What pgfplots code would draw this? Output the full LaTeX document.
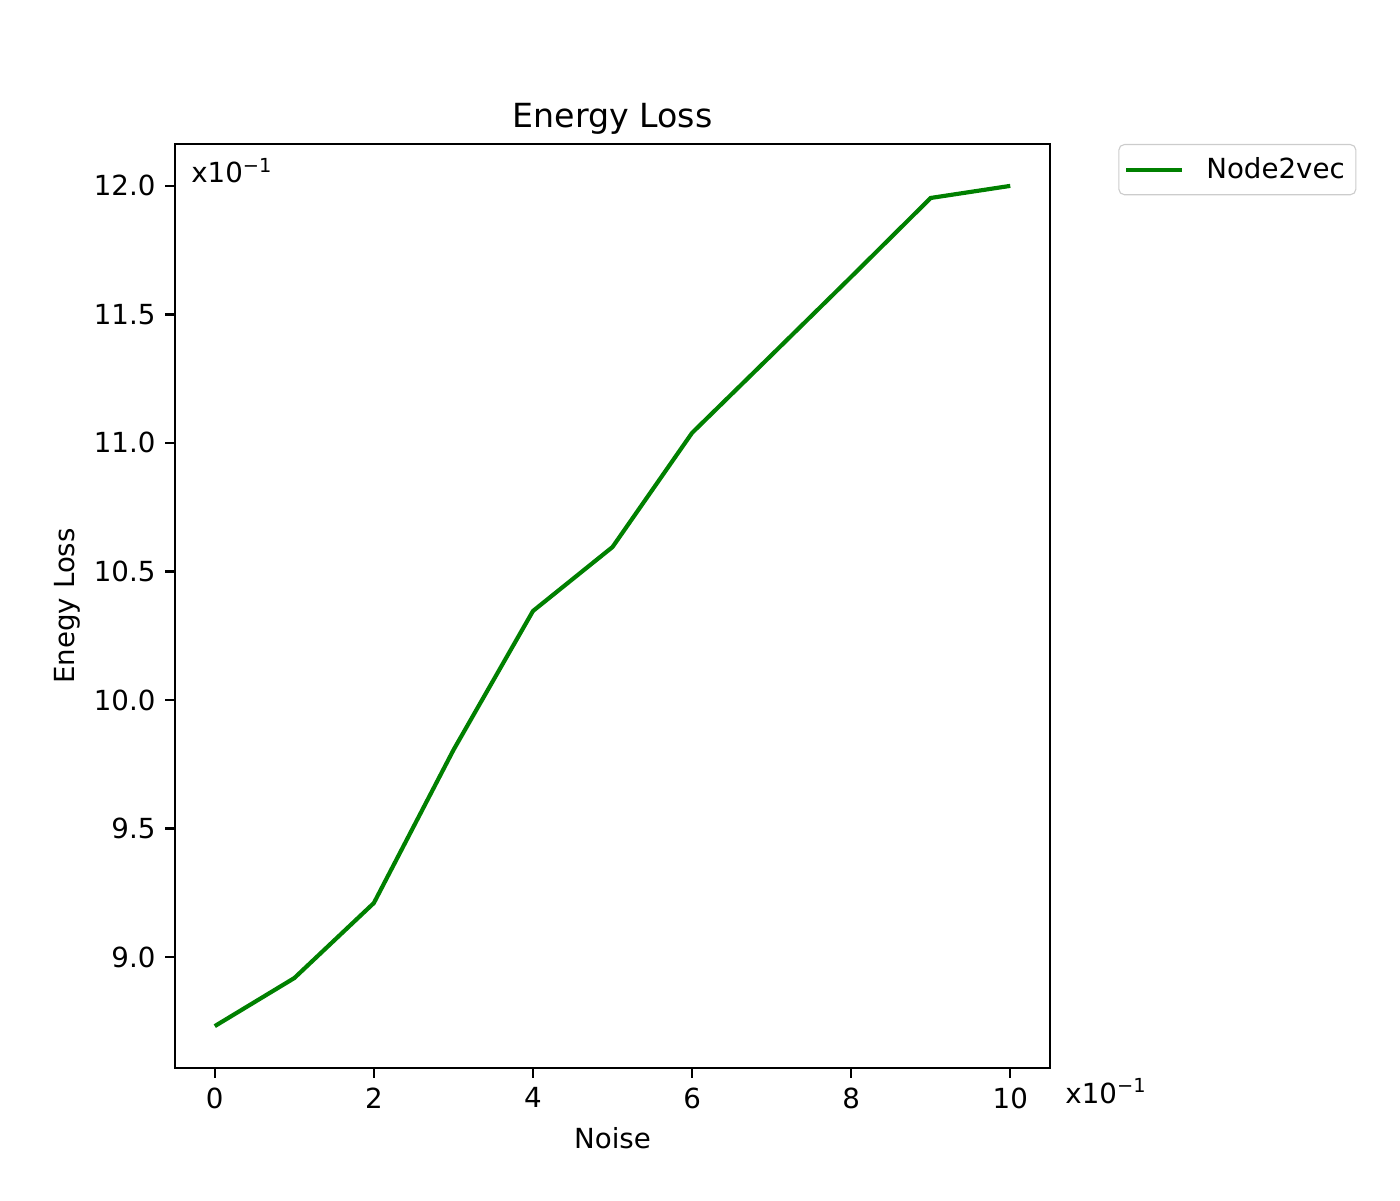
\documentclass[border=0pt]{standalone}
\usepackage{pgfplots}
\pgfplotsset{compat=1.18}
\usepackage{fontspec}
\setmainfont{DejaVu Sans}
\definecolor{mplgreen}{HTML}{008000}
\begin{document}
\begin{tikzpicture}[x=1bp,y=1bp]
\useasboundingbox (0,0) rectangle (504,432);
\begin{axis}[
  at={(63bp,47.52bp)}, anchor=south west,
  scale only axis, width=315bp, height=332.64bp,
  xmin=-0.5, xmax=10.5, ymin=8.568, ymax=12.163,
  xtick={0,2,4,6,8,10},
  ytick={9.0,9.5,10.0,10.5,11.0,11.5,12.0},
  yticklabel style={/pgf/number format/.cd,fixed,fixed zerofill,precision=1},
  /pgf/number format/assume math mode=true,
  tick align=outside, tick pos=left,
  major tick length=3.5bp,
  every tick/.style={black, line width=0.8bp},
  axis line style={line width=0.8bp},
  ticklabel style={font=\fontsize{10}{12}\selectfont},
  xlabel={Noise}, ylabel={Enegy Loss},
  label style={font=\fontsize{10}{12}\selectfont},
  ylabel style={yshift=-2bp},
  title={Energy Loss},
  title style={font=\fontsize{12}{14}\selectfont, yshift=-6bp},
  clip=false,
  legend image code/.code={\draw[#1] (0bp,0bp) -- (20bp,0bp); \path (26bp,0bp);},
  legend style={at={(1.078,1.0)}, anchor=north west, draw=black!20, rounded corners=2bp,
    font=\fontsize{10}{12}\selectfont, inner xsep=2bp, inner ysep=2.5bp,
    nodes={inner xsep=2bp, inner ysep=2bp}},
  legend cell align=left,
]
\addplot[mplgreen, line width=1.5bp] coordinates {
(0,8.731) (1,8.918) (2,9.210) (3,9.805) (4,10.346) (5,10.595) (6,11.039) (7,11.342) (8,11.646) (9,11.953) (10,12.0)
};
\addlegendentry{Node2vec}
\node[anchor=north west, inner sep=0pt, font=\fontsize{10}{12}\selectfont] at (rel axis cs:0.018,0.985) {x10\textsuperscript{−1}};
\node[anchor=west, inner sep=0pt, font=\fontsize{10}{12}\selectfont] at (rel axis cs:1.017,-0.025) {x10\textsuperscript{−1}};
\end{axis}
\end{tikzpicture}
\end{document}
